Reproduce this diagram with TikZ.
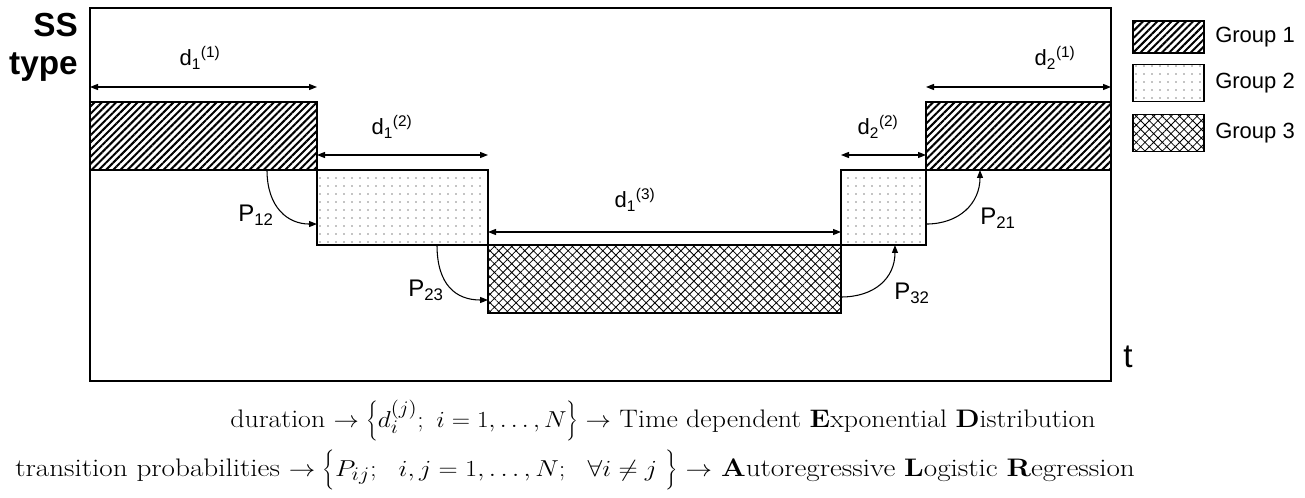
\documentclass[tikz,border=0pt]{standalone}
\usepackage{fontspec}
\usepackage{graphicx}
\newfontfamily\arialf{Liberation Sans}
\usetikzlibrary{arrows.meta,patterns.meta}
\begin{document}
\begin{tikzpicture}[x=0.75pt,y=-0.75pt,
  lab/.style={font=\arialf\fontsize{16.5}{18}\selectfont, inner sep=0pt},
  plab/.style={font=\arialf\fontsize{18}{20}\selectfont, inner sep=0pt, anchor=base west},
  bx/.style={draw=black, line width=0.8pt, inner sep=0pt, outer sep=0pt, anchor=north west},
  g1/.style={bx, pattern={Lines[angle=45,distance=3.8pt,line width=1.5pt]}},
  g2/.style={bx, pattern={Dots[distance=6pt,radius=0.5pt]}},
  g3/.style={bx, pattern={Hatch[angle=45,distance=4.6pt,line width=0.6pt]}},
  dim/.style={{Triangle[length=6pt,width=4.5pt]}-{Triangle[length=6pt,width=4.5pt]}, line width=0.9pt},
  trans/.style={-{Triangle[length=6pt,width=4.5pt]}, line width=0.8pt},
  eqline/.style={anchor=base west, inner sep=0pt, font=\fontsize{19}{22}\selectfont},
]
\useasboundingbox (0,0) rectangle (1305,498);
% frame
\node[draw, line width=1.1pt, inner sep=0pt, outer sep=0pt, anchor=north west,
      minimum width=765.75pt, minimum height=279.75pt] (frame) at (90,8) {};
% state boxes
\node[g1, minimum width=170.25pt, minimum height=51pt] (g1a) at (90,102) {};
\node[g2, minimum width=128.25pt, minimum height=56.25pt] (g2a) at (317,170) {};
\node[g3, minimum width=264.75pt, minimum height=51pt] (g3) at (488,245) {};
\node[g2, minimum width=63.75pt, minimum height=56.25pt] (g2b) at (841,170) {};
\node[g1, minimum width=138.75pt, minimum height=51pt] (g1b) at (926,102) {};
% duration arrows
\draw[dim] ([yshift=11.25pt]g1a.north west) -- ([yshift=11.25pt]g1a.north east);
\draw[dim] ([yshift=11.25pt]g2a.north west) -- ([yshift=11.25pt]g2a.north east);
\draw[dim] ([yshift=9.75pt]g3.north west) -- ([yshift=9.75pt]g3.north east);
\draw[dim] ([yshift=11.25pt]g2b.north west) -- ([yshift=11.25pt]g2b.north east);
\draw[dim] ([yshift=11.25pt]g1b.north west) -- ([yshift=11.25pt]g1b.north east);
% duration labels
\node[lab, anchor=base] (l11) at (200,66) {d\textsubscript{1}\textsuperscript{(1)}};
\node[lab, anchor=base] (l12) at (392,135) {d\textsubscript{1}\textsuperscript{(2)}};
\node[lab, anchor=base] (l13) at (635,208) {d\textsubscript{1}\textsuperscript{(3)}};
\node[lab, anchor=base] (l22) at (878,135) {d\textsubscript{2}\textsuperscript{(2)}};
\node[lab, anchor=base] (l21) at (1055,66) {d\textsubscript{2}\textsuperscript{(1)}};
% transitions
\draw[trans] ([xshift=-37.5pt]g1a.south east) .. controls +(0pt,-28pt) and +(-22pt,0pt) .. ([yshift=-12.4pt]g2a.west);
\draw[trans] ([xshift=-38.25pt]g2a.south east) .. controls +(0pt,-30pt) and +(-24pt,0pt) .. ([yshift=-15.75pt]g3.west);
\draw[trans] ([yshift=-13.5pt]g3.east) .. controls +(25pt,0pt) and +(0pt,-25pt) .. ([xshift=8.6pt]g2b.south);
\draw[trans] ([yshift=-12.4pt]g2b.east) .. controls +(25pt,0pt) and +(0pt,-25pt) .. ([xshift=40.5pt]g1b.south west);
\node[plab] (p12) at (238,222) {P\textsubscript{12}};
\node[plab] (p23) at (408,297) {P\textsubscript{23}};
\node[plab] (p32) at (894,300) {P\textsubscript{32}};
\node[plab] (p21) at (980,225) {P\textsubscript{21}};
% axis labels
\node[font=\arialf\bfseries\fontsize{25}{30}\selectfont, anchor=base east, inner sep=0pt] (ss) at (78,37) {SS};
\node[font=\arialf\bfseries\fontsize{25}{30}\selectfont, anchor=base east, inner sep=0pt] (type) at (78,75) {type};
\node[font=\arialf\fontsize{25}{30}\selectfont, anchor=base west, inner sep=0pt] (t) at (1123,368) {t};
% legend
\node[g1, anchor=west, minimum width=53.25pt, minimum height=24pt] (lg1) at (1133,37) {};
\node[g2, anchor=west, minimum width=53.25pt, minimum height=28pt] (lg2) at (1133,83) {};
\node[g3, anchor=west, minimum width=53.25pt, minimum height=28pt] (lg3) at (1133,133) {};
\node[lab, anchor=west] (lt1) at (1215,37) {Group~1};
\node[lab, anchor=west] (lt2) at (1215,83) {Group~2};
\node[lab, anchor=west] (lt3) at (1215,133) {Group~3};
% equations
\node[eqline] (eq1) at (230,427) {\scalebox{1.1}[1]{duration $\rightarrow \left\{ d_i^{(j)};\ i=1,\ldots,N\right\}\rightarrow$ Time dependent \textbf{E}xponential \textbf{D}istribution}};
\node[eqline] (eq2) at (15,476) {\scalebox{1.15}[1]{transition probabilities $\rightarrow \left\{P_{ij}\vphantom{d_i^{(j)}};\ \ i,j=1,\ldots,N;\ \ \forall i\neq j\ \right\}\rightarrow$ \textbf{A}utoregressive \textbf{L}ogistic \textbf{R}egression}};
\end{tikzpicture}
\end{document}
